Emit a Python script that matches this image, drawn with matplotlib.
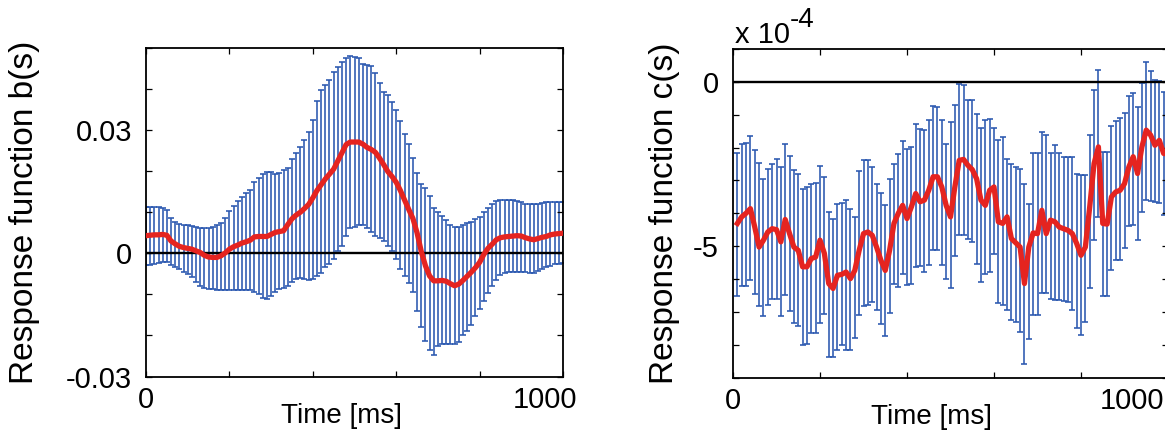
import numpy as np
import matplotlib
matplotlib.use("Agg")
import matplotlib.pyplot as plt
from matplotlib.transforms import ScaledTranslation

plt.rcParams['font.family'] = ['Liberation Sans', 'DejaVu Sans']

# ---- left panel: response function b(s), values in units of 0.01 ----
t_b = np.arange(0, 1001, 10)
b_upper = [1.14, 1.14, 1.13, 1.12, 1.10, 1.06, 0.86, 0.76, 0.72, 0.70,
           0.68, 0.66, 0.64, 0.62, 0.61, 0.61, 0.64, 0.68, 0.75, 0.86,
           1.04, 1.16, 1.28, 1.38, 1.46, 1.55, 1.74, 1.84, 1.93, 1.97,
           1.98, 1.93, 1.96, 2.02, 2.08, 2.30, 2.45, 2.60, 2.75, 2.95,
           3.25, 3.70, 3.98, 4.11, 4.22, 4.42, 4.53, 4.66, 4.76, 4.80,
           4.78, 4.75, 4.62, 4.58, 4.55, 4.40, 4.15, 3.93, 3.86, 3.68,
           3.50, 3.22, 2.90, 2.65, 2.33, 1.95, 1.70, 1.60, 1.40, 1.10,
           1.00, 0.90, 0.80, 0.70, 0.64, 0.65, 0.70, 0.73, 0.77, 0.83,
           0.88, 1.00, 1.10, 1.20, 1.28, 1.30, 1.30, 1.30, 1.30, 1.27,
           1.25, 1.21, 1.20, 1.20, 1.20, 1.22, 1.24, 1.25, 1.26, 1.26,
           1.26]
b_lower = [-0.28, -0.28, -0.25, -0.23, -0.20, -0.22, -0.28, -0.34, -0.39, -0.45,
           -0.51, -0.58, -0.70, -0.79, -0.84, -0.86, -0.88, -0.89, -0.89, -0.89,
           -0.89, -0.89, -0.89, -0.89, -0.89, -0.90, -0.93, -0.98, -1.08, -1.11,
           -1.05, -0.93, -0.87, -0.84, -0.80, -0.70, -0.62, -0.61, -0.62, -0.64,
           -0.63, -0.56, -0.47, -0.34, -0.25, -0.14, 0.05, 0.18, 0.42, 0.62,
           0.65, 0.68, 0.69, 0.62, 0.53, 0.43, 0.38, 0.29, 0.17, 0.05,
           -0.14, -0.38, -0.55, -0.73, -0.95, -1.40, -1.80, -2.13, -2.35, -2.48,
           -2.25, -2.21, -2.22, -2.22, -2.21, -2.15, -2.00, -1.88, -1.74, -1.52,
           -1.35, -1.15, -0.97, -0.80, -0.64, -0.53, -0.47, -0.45, -0.45, -0.45,
           -0.45, -0.46, -0.47, -0.47, -0.44, -0.39, -0.34, -0.30, -0.27, -0.25,
           -0.24]
b_mean = [0.43, 0.44, 0.45, 0.45, 0.46, 0.44, 0.30, 0.23, 0.17, 0.14,
          0.12, 0.10, 0.06, 0.02, -0.05, -0.09, -0.10, -0.10, -0.06, 0.01,
          0.10, 0.16, 0.20, 0.25, 0.28, 0.32, 0.40, 0.41, 0.41, 0.41,
          0.46, 0.51, 0.53, 0.55, 0.70, 0.84, 0.93, 1.00, 1.09, 1.19,
          1.35, 1.53, 1.67, 1.81, 1.93, 2.05, 2.25, 2.45, 2.65, 2.71,
          2.71, 2.71, 2.66, 2.58, 2.53, 2.46, 2.32, 2.16, 1.99, 1.87,
          1.73, 1.53, 1.30, 1.07, 0.85, 0.50, 0.05, -0.30, -0.55, -0.67,
          -0.67, -0.66, -0.68, -0.74, -0.79, -0.75, -0.66, -0.56, -0.46, -0.35,
          -0.22, -0.03, 0.12, 0.22, 0.33, 0.38, 0.40, 0.41, 0.42, 0.43,
          0.42, 0.38, 0.35, 0.33, 0.36, 0.39, 0.41, 0.45, 0.47, 0.48,
          0.49]

# ---- right panel: response function c(s), values in units of 1e-4 ----
t_c = np.arange(10, 1001, 10)
c_upper = [-2.18, -1.90, -1.86, -1.65, -2.08, -2.47, -2.95, -2.64, -2.51, -2.34,
           -2.60, -1.90, -2.26, -2.69, -2.79, -3.25, -3.20, -3.10, -3.07, -2.56,
           -2.90, -3.96, -4.16, -3.73, -3.68, -3.60, -3.86, -4.11, -2.71, -2.39,
           -2.39, -2.60, -3.12, -3.38, -3.76, -2.97, -2.49, -2.20, -1.80, -2.03,
           -1.98, -1.29, -1.45, -1.47, -1.17, -0.74, -0.76, -1.15, -1.88, -1.22,
           -0.71, -0.07, -0.10, -0.54, -0.54, -0.98, -1.39, -1.17, -1.12, -1.42,
           -1.76, -1.68, -2.34, -2.49, -2.60, -2.64, -3.10, -3.73, -2.18, -2.18,
           -1.52, -1.62, -2.18, -1.93, -2.18, -2.28, -2.28, -2.28, -2.81, -2.84,
           -2.84, -1.62, -0.25, 0.36, -2.13, -2.13, -1.35, -1.19, -1.09, -0.94,
           -0.44, -0.34, -0.78, -0.05, 0.61, 0.34, 0.05, 0.03, -0.30, -0.20]
c_lower = [-6.53, -6.20, -6.21, -6.04, -6.45, -6.83, -7.14, -6.80, -6.60, -6.60,
           -7.14, -6.50, -6.97, -7.34, -7.44, -8.02, -7.97, -7.66, -7.64, -7.34,
           -7.08, -8.38, -8.38, -8.17, -8.02, -8.17, -8.15, -7.81, -7.11, -6.83,
           -6.80, -6.70, -6.93, -7.36, -7.75, -7.03, -6.14, -6.24, -5.84, -6.19,
           -6.14, -5.63, -5.61, -5.79, -5.58, -5.13, -5.13, -5.58, -5.99, -6.29,
           -5.31, -4.67, -4.65, -4.77, -4.87, -5.53, -6.09, -5.86, -5.79, -5.23,
           -6.73, -6.80, -6.93, -7.26, -7.31, -7.61, -8.58, -7.82, -7.11, -7.11,
           -6.43, -6.43, -6.60, -6.65, -6.65, -6.67, -6.70, -6.93, -7.48, -7.72,
           -7.31, -6.29, -4.82, -4.11, -6.53, -6.53, -5.72, -5.43, -5.41, -5.05,
           -4.40, -4.37, -4.80, -3.96, -3.60, -3.63, -3.65, -3.68, -4.06, -4.00]
c_mean = [-4.31, -4.11, -4.00, -3.86, -4.42, -5.03, -4.82, -4.57, -4.47, -4.50,
          -4.87, -4.19, -4.62, -5.03, -5.13, -5.63, -5.63, -5.38, -5.33, -4.82,
          -5.22, -6.14, -6.29, -5.89, -5.86, -5.79, -5.99, -5.74, -5.13, -4.62,
          -4.57, -4.67, -5.03, -5.43, -5.74, -5.13, -4.31, -4.00, -3.76, -4.16,
          -3.81, -3.40, -3.65, -3.60, -3.30, -2.89, -2.89, -3.20, -3.76, -4.11,
          -3.20, -2.39, -2.36, -2.54, -2.67, -2.95, -3.60, -3.76, -3.30, -3.20,
          -4.26, -4.31, -4.11, -4.77, -4.90, -5.03, -6.14, -5.03, -4.60, -4.62,
          -3.91, -4.62, -4.21, -4.26, -4.42, -4.47, -4.52, -4.62, -4.92, -5.28,
          -5.03, -3.81, -2.49, -1.98, -4.31, -4.33, -3.50, -3.35, -3.30, -3.10,
          -2.59, -2.28, -2.79, -1.98, -1.47, -1.62, -1.93, -1.78, -2.18, -2.20]

blue = '#2a58b0'
red = '#e52420'

W, H = 1165, 434
fig = plt.figure(figsize=(W / 100, H / 100), dpi=100)
ax1 = fig.add_axes([146 / W, (H - 376.5) / H, (563 - 146) / W, (376.5 - 48) / H])
ax2 = fig.add_axes([733 / W, (H - 377.5) / H, (1168 - 733) / W, (377.5 - 49) / H])


def draw_panel(ax, t, upper, lower, mean, scale):
    upper = np.array(upper) * scale
    lower = np.array(lower) * scale
    mid = (upper + lower) / 2
    half = (upper - lower) / 2
    ax.errorbar(t, mid, yerr=half, fmt='none', ecolor=blue, elinewidth=1.15,
                capsize=2.5, capthick=1.15, zorder=1)
    ax.axhline(0, color='black', lw=1.7, zorder=2)
    ax.plot(t, np.array(mean) * scale, color=red, lw=3.8, zorder=3,
            solid_joinstyle='round')
    ax.set_xlim(0, 1000)
    ax.set_xticks(np.arange(0, 1001, 200))
    ax.set_xticklabels(['0', '', '', '', '', '1000'])
    ax.tick_params(direction='in', top=True, right=True, length=4, width=0.9,
                   labelsize=21)
    ax.tick_params(axis='x', pad=7)
    ax.tick_params(axis='y', pad=10)
    for s in ax.spines.values():
        s.set_linewidth(1.3)
    ax.set_xlabel('Time [ms]', fontsize=20)


draw_panel(ax1, t_b, b_upper, b_lower, b_mean, 0.01)
ax1.set_ylim(-0.03, 0.05)
ax1.set_yticks(np.arange(-0.03, 0.0501, 0.01))
ax1.set_yticklabels(['-0.03', '', '', '0', '', '', '0.03', '', ''])
ax1.set_ylabel('Response function b(s)', fontsize=24)
ax1.yaxis.set_label_coords(-0.255, 0.5)
ax1.xaxis.set_label_coords(0.468, -0.08)

draw_panel(ax2, t_c, c_upper, c_lower, c_mean, 1.0)
ax2.set_ylim(-9, 1)
ax2.set_yticks(np.arange(-9, 1.01, 1))
ax2.set_yticklabels(['', '', '', '', '-5', '', '', '', '', '0', ''])
ax2.set_ylabel('Response function c(s)', fontsize=24)
ax2.yaxis.set_label_coords(-0.122, 0.5)
ax2.xaxis.set_label_coords(0.457, -0.08)

# MATLAB style exponent label above the right panel
ax2.annotate('x 10', xy=(0, 1), xycoords='axes fraction', xytext=(1.5, 4.5),
             textcoords='offset points', fontsize=21, ha='left', va='baseline')
ax2.annotate('-4', xy=(0, 1), xycoords='axes fraction', xytext=(41, 15.5),
             textcoords='offset points', fontsize=20, ha='left', va='baseline')

# shift the "1000" labels left, as in the original figure
for ax, dx in ((ax1, -18), (ax2, -36)):
    lab = ax.get_xticklabels()[-1]
    lab.set_transform(lab.get_transform() + ScaledTranslation(dx / 100, 0, fig.dpi_scale_trans))

fig.savefig('out.png', dpi=100)
